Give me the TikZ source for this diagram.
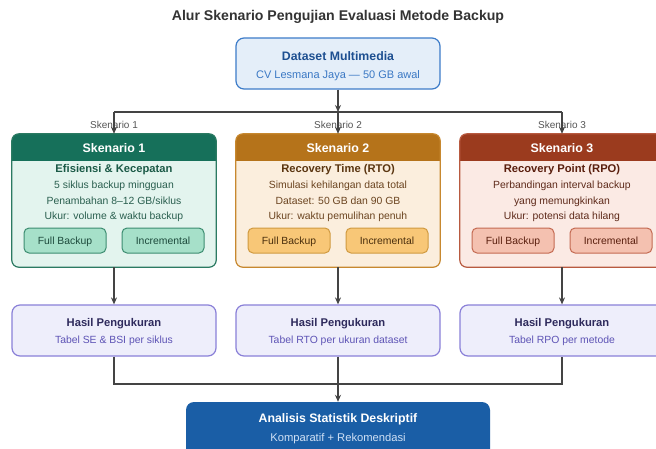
\documentclass[tikz,border=0pt]{standalone}
\usepackage{fontspec}
\setmainfont{Liberation Sans}
\usetikzlibrary{arrows.meta}
\definecolor{linec}{HTML}{444444}
\definecolor{titlec}{HTML}{333333}
\definecolor{lblc}{HTML}{555555}
\definecolor{dsfill}{HTML}{E4EEF9}
\definecolor{dsborder}{HTML}{3D7CC9}
\definecolor{dstitle}{HTML}{1D4F91}
\definecolor{dstext}{HTML}{3A78C4}
% scenario 1 (green)
\definecolor{gAhead}{HTML}{16705A}
\definecolor{gAbody}{HTML}{E3F4EE}
\definecolor{gAborder}{HTML}{2B7A62}
\definecolor{gAtitle}{HTML}{1B5A47}
\definecolor{gAtext}{HTML}{2A5F4F}
\definecolor{gAbtn}{HTML}{A6E0C9}
\definecolor{gAbtnb}{HTML}{3C8C70}
\definecolor{gAbtnt}{HTML}{1D4A3C}
% scenario 2 (orange)
\definecolor{gBhead}{HTML}{B5731A}
\definecolor{gBbody}{HTML}{FBEEDD}
\definecolor{gBborder}{HTML}{C7882F}
\definecolor{gBtitle}{HTML}{5A3510}
\definecolor{gBtext}{HTML}{6B4420}
\definecolor{gBbtn}{HTML}{F8C777}
\definecolor{gBbtnb}{HTML}{D09A40}
\definecolor{gBbtnt}{HTML}{4A2E0C}
% scenario 3 (red)
\definecolor{gChead}{HTML}{9B3B1E}
\definecolor{gCbody}{HTML}{FBEAE4}
\definecolor{gCborder}{HTML}{B85A40}
\definecolor{gCtitle}{HTML}{5A1F0E}
\definecolor{gCtext}{HTML}{5E2A1A}
\definecolor{gCbtn}{HTML}{F4C1B0}
\definecolor{gCbtnb}{HTML}{C46A52}
\definecolor{gCbtnt}{HTML}{5A1F0E}
% results
\definecolor{rfill}{HTML}{EEEEFB}
\definecolor{rborder}{HTML}{8A80D8}
\definecolor{rtitle}{HTML}{2E2A5C}
\definecolor{rtext}{HTML}{5D53B5}
% final
\definecolor{ffill}{HTML}{1A5EA6}
\definecolor{ftext}{HTML}{CFE0F5}

\tikzset{
  conn/.style={draw=linec, line width=1.3pt},
  arr/.style={conn, -{Stealth[length=7pt,width=6pt]}},
  sbox/.style={minimum width=204pt, minimum height=133pt, inner sep=0pt, rounded corners=7pt},
  txt/.style={inner sep=0pt, anchor=center, text height=0.72em, text depth=0.02em, yshift=-0.8pt},
  btn/.style={minimum width=82pt, minimum height=25pt, inner sep=0pt, rounded corners=5pt, line width=1pt, text height=0.72em, text depth=0.02em, font=\fontsize{10.4}{12}\selectfont},
  rbox/.style={draw=rborder, fill=rfill, line width=1.2pt, minimum width=204pt, minimum height=51pt, inner sep=0pt, rounded corners=8pt},
  lbl/.style={txt, text=lblc, font=\fontsize{10}{12}\selectfont},
}

\newcommand\scenbox[8]{%
  \node[sbox, fill=#3body] (#1) at (#2,200.5) {};
  \begin{scope}
    \clip[rounded corners=7pt] (#1.south west) rectangle (#1.north east);
    \fill[#3head] ({#2-102},134) rectangle ({#2+102},161);
  \end{scope}
  \draw[#3border, line width=1.2pt, rounded corners=7pt] (#1.south west) rectangle (#1.north east);
  \node[txt, text=white, font=\bfseries\fontsize{12.4}{14}\selectfont] (#1h) at (#2,148) {#4};
  \node[txt, text=#3title, font=\bfseries\fontsize{11.2}{13}\selectfont] (#1t) at (#2,168.5) {#5};
  \node[txt, text=#3text, font=\fontsize{10.4}{12}\selectfont] (#1a) at (#2,184.5) {#6};
  \node[txt, text=#3text, font=\fontsize{10.4}{12}\selectfont] (#1b) at (#2,200) {#7};
  \node[txt, text=#3text, font=\fontsize{10.4}{12}\selectfont] (#1c) at (#2,215) {#8};
  \node[btn, draw=#3btnb, fill=#3btn, text=#3btnt] (#1f) at ({#2-49},240.5) {Full Backup};
  \node[btn, draw=#3btnb, fill=#3btn, text=#3btnt] (#1i) at ({#2+49},240.5) {Incremental};
}

\begin{document}
\begin{tikzpicture}[x=1pt,y=-1pt]
\useasboundingbox (0,0) rectangle (656,448);
\clip (0,0) rectangle (656,448);
\fill[white] (0,0) rectangle (656,448);

\node[txt, text=titlec, font=\bfseries\fontsize{14.1}{16}\selectfont] (title) at (338,16.5) {Alur Skenario Pengujian Evaluasi Metode Backup};

\node[draw=dsborder, fill=dsfill, line width=1.2pt, minimum width=204pt, minimum height=51pt, inner sep=0pt, rounded corners=8pt] (ds) at (338,63.5) {};
\node[txt, text=dstitle, font=\bfseries\fontsize{12.3}{14}\selectfont] (dst) at (338,56) {Dataset Multimedia};
\node[txt, text=dstext, font=\fontsize{11}{13}\selectfont] (dss) at (338,74) {CV Lesmana Jaya — 50 GB awal};

\scenbox{s1}{114}{gA}{Skenario 1}{Efisiensi \& Kecepatan}{5 siklus backup mingguan}{Penambahan 8–12 GB/siklus}{Ukur: volume \& waktu backup}
\scenbox{s2}{338}{gB}{Skenario 2}{Recovery Time (RTO)}{Simulasi kehilangan data total}{Dataset: 50 GB dan 90 GB}{Ukur: waktu pemulihan penuh}
\scenbox{s3}{562}{gC}{Skenario 3}{Recovery Point (RPO)}{Perbandingan interval backup}{yang memungkinkan}{Ukur: potensi data hilang}

\node[lbl] (l1) at (114,124.5) {Skenario 1};
\node[lbl] (l2) at (338,124.5) {Skenario 2};
\node[lbl] (l3) at (562,124.5) {Skenario 3};

\coordinate (bt1) at (114,112);
\coordinate (bt2) at (338,112);
\coordinate (bt3) at (562,112);
\draw[arr] (ds.south) -- (bt2);
\draw[conn] (bt1) -- (bt3);
\draw[arr] (bt1) -- (s1.north);
\draw[arr] (bt2) -- (s2.north);
\draw[arr] (bt3) -- (s3.north);

\node[rbox] (r1) at (114,330.5) {};
\node[rbox] (r2) at (338,330.5) {};
\node[rbox] (r3) at (562,330.5) {};
\foreach \n/\x/\s in {r1/114/Tabel SE \& BSI per siklus, r2/338/Tabel RTO per ukuran dataset, r3/562/Tabel RPO per metode}{
  \node[txt, text=rtitle, font=\bfseries\fontsize{11.2}{13}\selectfont] (\n t) at (\x,322.5) {Hasil Pengukuran};
  \node[txt, text=rtext, font=\fontsize{10.4}{12}\selectfont] (\n s) at (\x,339.5) {\s};
}

\draw[arr] (s1.south) -- (r1.north);
\draw[arr] (s2.south) -- (r2.north);
\draw[arr] (s3.south) -- (r3.north);

\node[fill=ffill, minimum width=304pt, minimum height=60pt, inner sep=0pt, rounded corners=8pt] (fin) at (338,432) {};
\node[txt, text=white, font=\bfseries\fontsize{12.3}{14}\selectfont] (fint) at (338,418.5) {Analisis Statistik Deskriptif};
\node[txt, text=ftext, font=\fontsize{11.2}{13}\selectfont] (fins) at (338,437) {Komparatif + Rekomendasi};

\coordinate (bb1) at (114,384);
\coordinate (bb2) at (338,384);
\coordinate (bb3) at (562,384);
\draw[conn] (r1.south) -- (bb1) -- (bb3) -- (r3.south);
\draw[conn] (r2.south) -- (bb2);
\draw[arr] (bb2) -- (fin.north);
\end{tikzpicture}
\end{document}
